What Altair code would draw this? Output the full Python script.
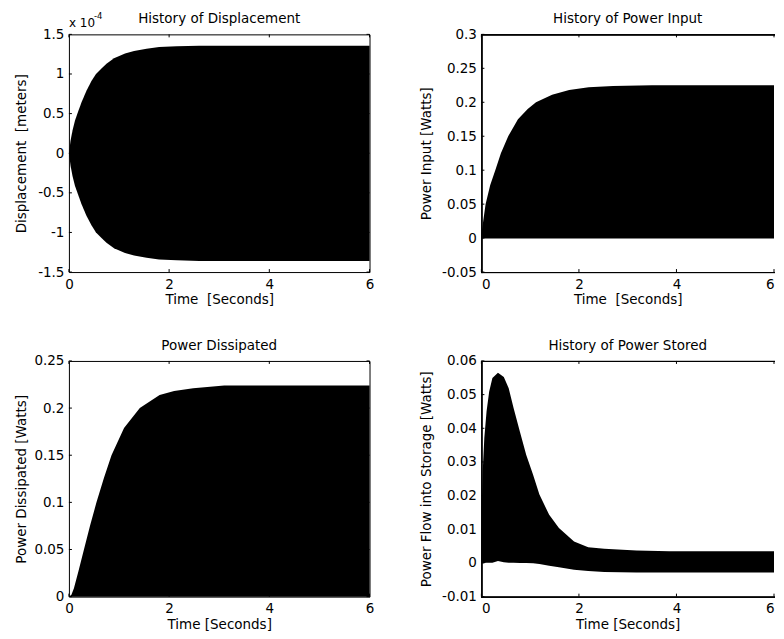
import altair as alt
import pandas as pd

# ---------------- data (envelopes of the dense oscillations) -------------
x_ticks = [0, 2, 4, 6]

t_disp = [0, 0.033, 0.073, 0.12, 0.17, 0.25, 0.35, 0.45, 0.54, 0.65, 0.75, 0.9, 1.12, 1.3,
          1.55, 1.8, 2.15, 2.6, 3.0, 4.0, 5.0, 6.0]
disp_upper = [0, 0.16, 0.29, 0.41, 0.5, 0.64, 0.79, 0.91, 1.0, 1.07, 1.13, 1.2, 1.26, 1.29,
              1.32, 1.34, 1.35, 1.355, 1.355, 1.355, 1.355, 1.355]
disp_lower = [0, -0.16, -0.29, -0.41, -0.5, -0.64, -0.79, -0.91, -1.0, -1.07, -1.13, -1.2, -1.26, -1.29,
              -1.32, -1.34, -1.35, -1.36, -1.36, -1.36, -1.36, -1.36]
disp_ticks = [-1.5, -1, -0.5, 0, 0.5, 1, 1.5]

t_pin = [0, 0.02, 0.086, 0.18, 0.285, 0.4, 0.55, 0.75, 0.95, 1.12, 1.45, 1.8, 2.2, 2.7, 3.5, 6]
pin_upper = [0.005, 0.016, 0.05, 0.078, 0.1, 0.125, 0.15, 0.175, 0.19, 0.2, 0.211, 0.218,
             0.222, 0.224, 0.225, 0.225]
pin_lower = [0, -0.0005, -0.0005, -0.0005, -0.0005, -0.0005, -0.0005, -0.0005, -0.0005,
             -0.0005, -0.0005, -0.0005, -0.0005, -0.0005, -0.0005, -0.0005]
pin_ticks = [-0.05, 0, 0.05, 0.1, 0.15, 0.2, 0.25, 0.3]

t_pd = [0, 0.05, 0.1, 0.19, 0.3, 0.42, 0.55, 0.7, 0.85, 1.1, 1.415, 1.81, 2.1, 2.48, 3.1, 4, 6]
pd_upper = [0, 0.002, 0.009, 0.027, 0.05, 0.075, 0.1, 0.126, 0.15, 0.179, 0.2, 0.214, 0.218,
            0.221, 0.224, 0.224, 0.224]
pd_lower = [0] * len(t_pd)
pd_ticks = [0, 0.05, 0.1, 0.15, 0.2, 0.25]

t_ps = [0, 0.007, 0.027, 0.06, 0.106, 0.16, 0.226, 0.34, 0.46, 0.56, 0.66, 0.79, 0.92, 1.06,
        1.19, 1.39, 1.59, 1.9, 2.19, 2.52, 3.18, 3.85, 6]
ps_upper = [0.0, 0.0163, 0.0272, 0.0371, 0.045, 0.0509, 0.0549, 0.0565, 0.0552, 0.0519, 0.046,
            0.039, 0.0321, 0.0262, 0.0203, 0.0143, 0.0104, 0.0064, 0.0047, 0.0042, 0.0037,
            0.0035, 0.0035]
ps_lower = [0, 0, 0, 0, 0.0001, 0.0001, 0.0001, 0.0006, 0.0002, 0.0001, 0.0001, 0.0, 0.0,
            -0.0001, -0.0003, -0.0008, -0.0013, -0.0020, -0.0024, -0.0027, -0.0028, -0.0028,
            -0.0028]
ps_ticks = [-0.01, 0, 0.01, 0.02, 0.03, 0.04, 0.05, 0.06]

titles = ["History of Displacement", "History of Power Input", "Power Dissipated",
          "History of Power Stored"]

FONT = "DejaVu Sans"
FS = 13.5
TICK = 3


def panel(t, up, lo, yticks, title, xtitle, ytitle, w, h, yext, ytp, open_right=False, extra=None):
    df = pd.DataFrame({"t": t, "up": up, "lo": lo})
    xs = alt.Scale(domain=[x_ticks[0], x_ticks[-1]], nice=False, zero=False)
    ys = alt.Scale(domain=[yticks[0], yticks[-1]], nice=False, zero=False)
    lbl = "replace(format(datum.value, '~g'), '\u2212', '-')"
    xax = alt.Axis(values=x_ticks, labelExpr=lbl, ticks=False, domain=False, grid=False,
                   labelPadding=5, titlePadding=2, labelFlush=open_right)
    yax = alt.Axis(values=yticks, labelExpr=lbl, ticks=False, domain=False, grid=False,
                   labelPadding=5, titlePadding=ytp, minExtent=yext, maxExtent=yext)
    area = alt.Chart(df).mark_area(color="black", opacity=1, interpolate="linear").encode(
        x=alt.X("t:Q", scale=xs, title=xtitle, axis=xax),
        y=alt.Y("up:Q", scale=ys, title=ytitle, axis=yax),
        y2="lo:Q",
    )
    xt = pd.DataFrame({"t": x_ticks})
    yt = pd.DataFrame({"up": yticks})
    X = alt.X("t:Q", scale=xs, title=xtitle, axis=xax)
    Y = alt.Y("up:Q", scale=ys, title=ytitle, axis=yax)
    xb = alt.Chart(xt).mark_rule(color="black").encode(x=X, y=alt.value(h), y2=alt.value(h - TICK))
    xtop = alt.Chart(xt).mark_rule(color="black").encode(x=X, y=alt.value(0), y2=alt.value(TICK))
    yl = alt.Chart(yt).mark_rule(color="black").encode(y=Y, x=alt.value(0), x2=alt.value(TICK))
    ttl = alt.Chart(pd.DataFrame({"s": [title]})).mark_text(
        font=FONT, fontSize=FS, align="center", baseline="alphabetic", color="black").encode(
        text="s:N", x=alt.value(w / 2), y=alt.value(-11))
    layers = [area, xb, xtop, yl, ttl]
    if open_right:
        # the reference is cut at the window edge: frame drawn on three sides only
        layers += [
            alt.Chart(xt).mark_rule(color="black").encode(x=alt.value(0), x2=alt.value(w + 1),
                                                          y=alt.value(0.5)),
            alt.Chart(xt).mark_rule(color="black").encode(x=alt.value(0), x2=alt.value(w + 1),
                                                          y=alt.value(h + 0.5)),
            alt.Chart(xt).mark_rule(color="black").encode(x=alt.value(0.5), y=alt.value(0),
                                                          y2=alt.value(h + 1)),
        ]
    else:
        layers.append(alt.Chart(yt).mark_rule(color="black").encode(
            y=Y, x=alt.value(w - TICK), x2=alt.value(w)))
    if extra is not None:
        layers += extra
    ch = alt.layer(*layers).properties(width=w, height=h)
    if open_right:
        ch = ch.properties(view=alt.ViewConfig(stroke="transparent"))
    return ch


exp_df = pd.DataFrame({"a": ["x 10"], "b": ["-4"]})
exp_main = alt.Chart(exp_df).mark_text(font=FONT, fontSize=12, align="left", baseline="alphabetic",
                                       color="black").encode(
    text="a:N", x=alt.value(0), y=alt.value(-7))
exp_sup = alt.Chart(exp_df).mark_text(font=FONT, fontSize=8.5, align="left", baseline="alphabetic",
                                      color="black").encode(
    text="b:N", x=alt.value(25), y=alt.value(-15))

p1 = panel(t_disp, disp_upper, disp_lower, disp_ticks, titles[0],
           "Time\u00a0 [Seconds]", "Displacement\u00a0 [meters]", 301, 238, 32, 8,
           extra=[exp_main, exp_sup])
p2 = panel(t_pin, pin_upper, pin_lower, pin_ticks, titles[1],
           "Time\u00a0 [Seconds]", "Power Input [Watts]", 293, 238, 40, 8, open_right=True)
p3 = panel(t_pd, pd_upper, pd_lower, pd_ticks, titles[2],
           "Time [Seconds]", "Power Dissipated [Watts]", 301, 236, 32, 8)
p4 = panel(t_ps, ps_upper, ps_lower, ps_ticks, titles[3],
           "Time [Seconds]", "Power Flow into Storage [Watts]", 293, 236, 40, 8, open_right=True)

chart = alt.vconcat(
    alt.hconcat(p1, p2, spacing=44),
    alt.hconcat(p3, p4, spacing=44),
    spacing=31,
).properties(
    padding={"left": 6, "top": 3, "right": 0, "bottom": 0},
    background="white",
).configure_view(stroke="black", strokeWidth=1).configure_axis(
    labelFont=FONT, labelFontSize=FS, labelColor="black", titleFont=FONT, titleFontSize=FS,
    titleFontWeight="normal", titleColor="black",
)

chart.save("out.html", embed_options={"renderer": "svg", "actions": False})
